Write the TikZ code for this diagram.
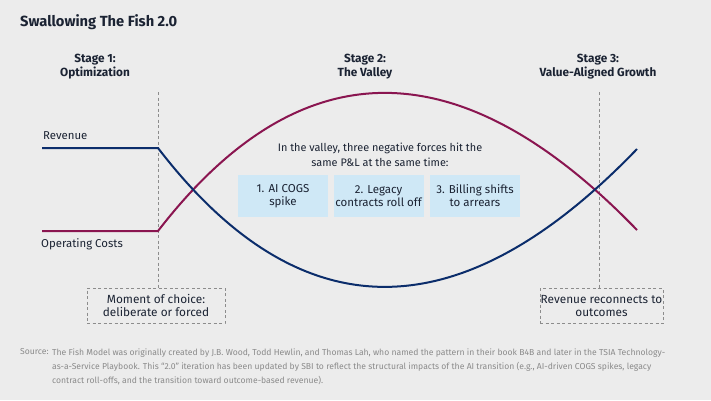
\documentclass[tikz,border=0pt]{standalone}
\usepackage{fontspec}
\setmainfont{Fira Sans}
\usetikzlibrary{calc}
\definecolor{bg}{HTML}{ECECEC}
\definecolor{ink}{HTML}{1B2333}
\definecolor{revblue}{HTML}{0B2D6B}
\definecolor{costred}{HTML}{8A1550}
\definecolor{dashgray}{HTML}{8C8C8C}
\definecolor{boxblue}{HTML}{CFE8F6}
\definecolor{srcgray}{HTML}{8A8A8A}
\tikzset{
  txt/.style={inner sep=0pt, text=ink, align=center},
  stagelbl/.style={txt, font=\bfseries\fontsize{11.8}{13.5}\selectfont},
  curvelbl/.style={inner sep=0pt, text=ink, anchor=west, font=\fontsize{11.4}{12}\selectfont},
  dashbox/.style={draw=dashgray, line width=1pt, dash pattern=on 3pt off 2.5pt, inner sep=0pt, text=ink, align=center, minimum height=35pt, font=\fontsize{11.8}{13.5}\selectfont},
  forcebox/.style={fill=boxblue, inner sep=0pt, minimum width=90pt, minimum height=42pt, text=ink, align=center, font=\fontsize{11.5}{13}\selectfont},
  guide/.style={draw=dashgray, line width=1pt, dash pattern=on 3pt off 2.5pt},
  revline/.style={draw=revblue, line width=2pt},
  costline/.style={draw=costred, line width=2pt},
  srctxt/.style={inner sep=0pt, anchor=north west, text=srcgray, align=left, font=\fontsize{8.6}{14}\selectfont}
}
\begin{document}
\begin{tikzpicture}[x=1pt,y=-1pt]
\useasboundingbox[fill=bg] (0,0) rectangle (711,400);
% title
\node[inner sep=0pt, anchor=west, text=ink, font=\bfseries\fontsize{14.7}{16}\selectfont] (title) at (20,22) {Swallowing The Fish 2.0};
% stages
\node[stagelbl] (s1) at (95,66.5) {Stage 1:\\Optimization};
\node[stagelbl] (s2) at (365,66.5) {Stage 2:\\The Valley};
\node[stagelbl] (s3) at (598,66.5) {Stage 3:\\Value-Aligned Growth};
% dashed boxes
\node[dashbox, minimum width=138pt] (choice) at (156,305.5) {Moment of choice:\\deliberate or forced};
\node[dashbox, minimum width=123pt] (reconn) at (601.5,306) {Revenue reconnects to\\outcomes};
% guides
\coordinate (g1) at (158,92);
\coordinate (g2) at (599.5,92);
\draw[guide] (g1) -- (g1 |- choice.north);
\draw[guide] (g2) -- (g2 |- reconn.north);
% curves
\coordinate (revS) at (42,148);
\coordinate (revK) at (158,148);
\coordinate (revE) at (637,149);
\coordinate (costS) at (42,231);
\coordinate (costK) at (158,231);
\coordinate (costE) at (637,230);
\draw[costline] (costS) -- (costK) .. controls (300,47) and (460,47) .. (costE);
\draw[revline] (revS) -- (revK) .. controls (300,333) and (460,333) .. (revE);
\node[curvelbl] (revlbl) at (43,135.5) {Revenue};
\node[curvelbl] (costlbl) at (41,244.5) {Operating Costs};
% valley text
\node[txt, font=\fontsize{10.9}{15}\selectfont] (valley) at (380,154.5) {In the valley, three negative forces hit the\\same P\&L at the same time:};
\node[forcebox] (f1) at (283,196) {1. AI COGS\\spike};
\node[forcebox] (f2) at (378.5,196) {2. Legacy\\contracts roll off};
\node[forcebox] (f3) at (475,196) {3. Billing shifts\\to arrears};
% source
\node[srctxt] (srclbl) at (20,348.5) {Source:};
\node[srctxt] (src) at (52,348.5) {The Fish Model was originally created by J.B. Wood, Todd Hewlin, and Thomas Lah, who named the pattern in their book B4B and later in the TSIA Technology-\\as-a-Service Playbook. This “2.0” iteration has been updated by SBI to reflect the structural impacts of the AI transition (e.g., AI-driven COGS spikes, legacy\\contract roll-offs, and the transition toward outcome-based revenue).};
\end{tikzpicture}
\end{document}
